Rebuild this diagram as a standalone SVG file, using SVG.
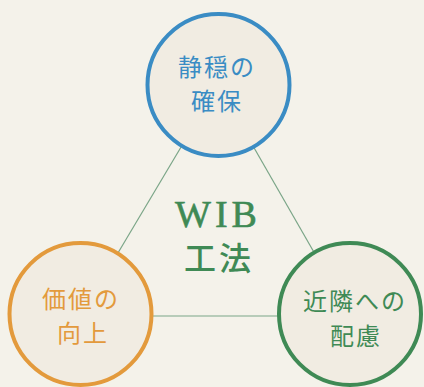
<svg xmlns="http://www.w3.org/2000/svg" width="424" height="387" viewBox="0 0 424 387">
<style>
.bg{fill:#f4f2ea}
.node{fill:#f1ece2;stroke-width:4}
.lbl{font-family:"Noto Sans CJK JP","Noto Sans",sans-serif;font-size:24px;font-weight:400;text-anchor:middle;letter-spacing:2px}
.conn{stroke:#7aa587;stroke-width:1.2;fill:none}
</style>
<rect class="bg" x="0" y="0" width="424" height="387"/>
<g id="connectors">
<line class="conn" x1="218" y1="85" x2="81" y2="315"/>
<line class="conn" x1="218" y1="85" x2="350" y2="315"/>
<line class="conn" x1="81" y1="316" x2="350" y2="316"/>
</g>
<g id="center">
<text x="218" y="227" font-family="Liberation Serif,serif" font-size="38" fill="#3f8a55" stroke="#3f8a55" stroke-width="0.6" text-anchor="middle" letter-spacing="4">WIB</text>
<text x="219" y="270" font-family="Noto Sans CJK JP,sans-serif" font-size="32" font-weight="500" fill="#3f8a55" text-anchor="middle" letter-spacing="3">工法</text>
</g>
<g id="node-top">
<circle class="node" cx="218.5" cy="85" r="71" stroke="#3a8cc4"/>
<text class="lbl" x="217" y="76" fill="#3a8cc4">静穏の</text>
<text class="lbl" x="217" y="110" fill="#3a8cc4">確保</text>
</g>
<g id="node-left">
<circle class="node" cx="80.5" cy="314" r="71" stroke="#e39a3c"/>
<text class="lbl" x="81" y="308" fill="#e39a3c">価値の</text>
<text class="lbl" x="83" y="342" fill="#e39a3c">向上</text>
</g>
<g id="node-right">
<circle class="node" cx="350" cy="314" r="71" stroke="#3f8a55"/>
<text class="lbl" x="355" y="310" fill="#3f8a55">近隣への</text>
<text class="lbl" x="356" y="345" fill="#3f8a55">配慮</text>
</g>
</svg>
